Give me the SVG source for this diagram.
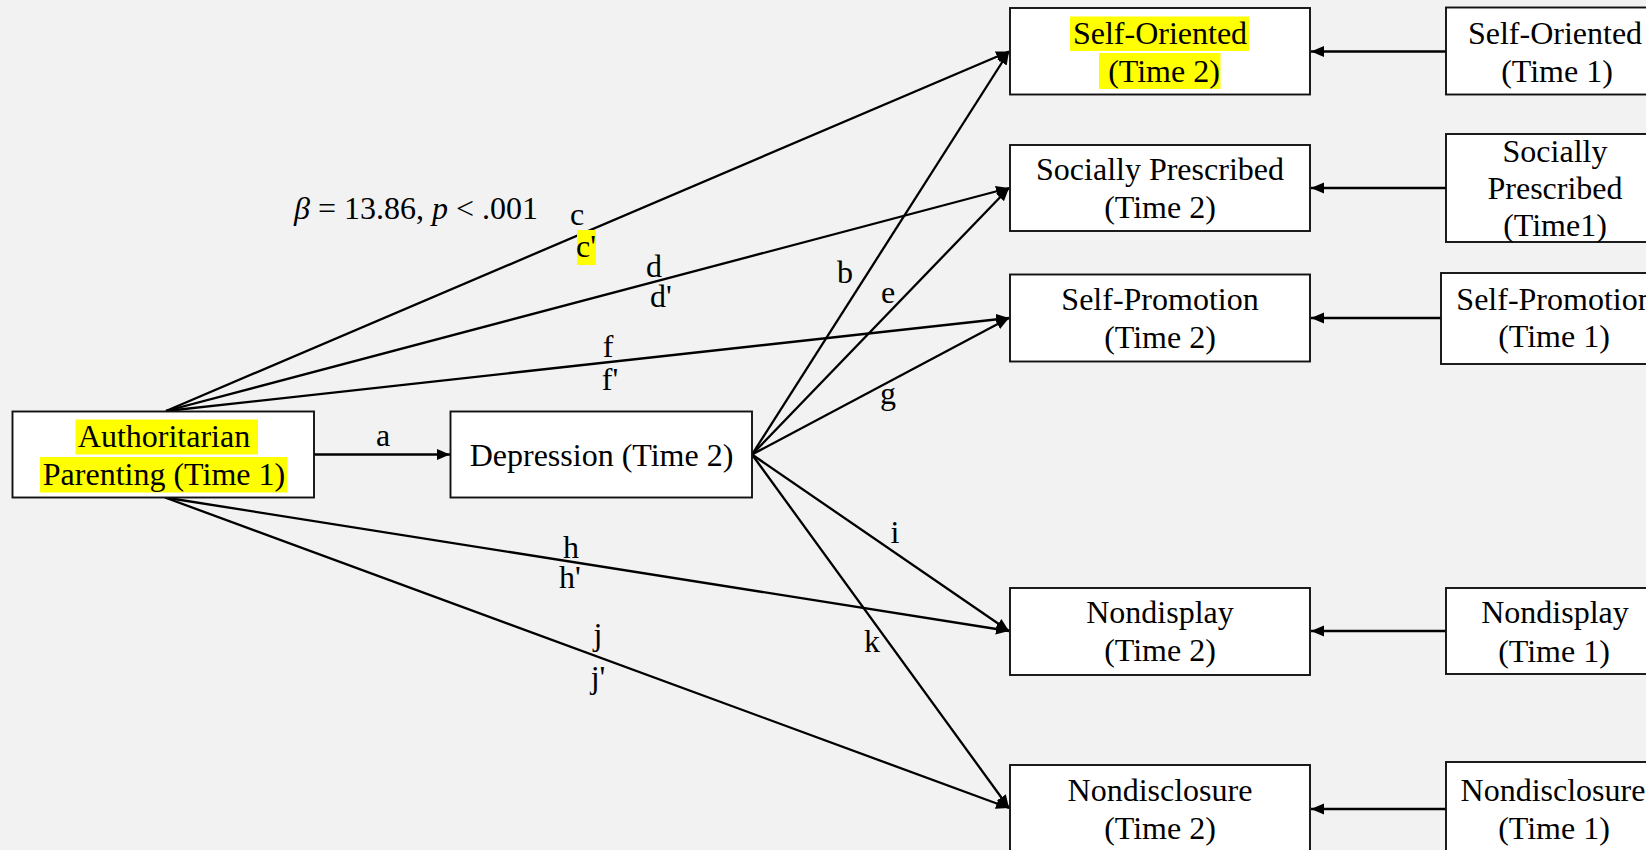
<svg xmlns="http://www.w3.org/2000/svg" width="1646" height="850" viewBox="0 0 1646 850">
<style>
.bg{fill:#f2f2f2}
.box{fill:#fff;stroke:#111;stroke-width:1.9}
.t{font-family:"Liberation Serif","Times New Roman",serif;font-size:32px;fill:#000;text-anchor:middle}
.hl{fill:#ffff00}
.ln{stroke:#000;stroke-width:2.3;fill:none;marker-end:url(#arr)}
</style>
<defs>
<marker id="arr" markerUnits="userSpaceOnUse" markerWidth="14" markerHeight="12" refX="13" refY="5.5" orient="auto">
<path d="M0,0 L13,5.5 L0,11 z" fill="#000"/>
</marker>
</defs>
<rect class="bg" x="0" y="0" width="1646" height="850"/>

<g id="connectors">
<line class="ln" x1="314" y1="454.5" x2="450" y2="454.5"/>
<line class="ln" x1="166" y1="411" x2="1009" y2="51.5"/>
<line class="ln" x1="166" y1="411" x2="1009" y2="188"/>
<line class="ln" x1="166" y1="411" x2="1009" y2="318"/>
<line class="ln" x1="165" y1="497.5" x2="1009" y2="631"/>
<line class="ln" x1="165" y1="497.5" x2="1009" y2="808"/>
<line class="ln" x1="752" y1="454.5" x2="1009" y2="51.5"/>
<line class="ln" x1="752" y1="454.5" x2="1009" y2="188"/>
<line class="ln" x1="752" y1="454.5" x2="1009" y2="318"/>
<line class="ln" x1="752" y1="454.5" x2="1009" y2="631"/>
<line class="ln" x1="752" y1="454.5" x2="1009" y2="808"/>
<line class="ln" x1="1446" y1="51.5" x2="1311" y2="51.5"/>
<line class="ln" x1="1446" y1="188" x2="1311" y2="188"/>
<line class="ln" x1="1441" y1="318" x2="1311" y2="318"/>
<line class="ln" x1="1446" y1="631" x2="1311" y2="631"/>
<line class="ln" x1="1446" y1="809" x2="1311" y2="809"/>
</g>

<g id="labels">
<text class="t" x="294" y="219" style="text-anchor:start"><tspan font-style="italic">β</tspan> = 13.86, <tspan font-style="italic">p</tspan> &lt; .001</text>
<text class="t" x="383" y="446">a</text>
<text class="t" x="845" y="283">b</text>
<text class="t" x="577" y="225">c</text>
<rect class="hl" x="577" y="230" width="19" height="35"/>
<text class="t" x="586" y="257">c'</text>
<text class="t" x="654" y="277">d</text>
<text class="t" x="661" y="307">d'</text>
<text class="t" x="888" y="303">e</text>
<text class="t" x="608" y="357">f</text>
<text class="t" x="610" y="390">f'</text>
<text class="t" x="888" y="404">g</text>
<text class="t" x="571" y="558">h</text>
<text class="t" x="570" y="588">h'</text>
<text class="t" x="895" y="543">i</text>
<text class="t" x="598" y="645">j</text>
<text class="t" x="598" y="688">j'</text>
<text class="t" x="872" y="652">k</text>
</g>

<g id="authoritarian">
<rect class="box" x="12.5" y="411.5" width="301.5" height="86"/>
<rect class="hl" x="75.5" y="419.5" width="182.5" height="35"/>
<rect class="hl" x="40" y="457" width="247.5" height="35.5"/>
<text class="t" x="164" y="446.5">Authoritarian</text>
<text class="t" x="164" y="485">Parenting (Time 1)</text>
</g>

<g id="depression">
<rect class="box" x="450.5" y="411.5" width="301.5" height="86"/>
<text class="t" x="601.5" y="466">Depression (Time 2)</text>
</g>

<g id="selforiented-t2">
<rect class="box" x="1010" y="8" width="300" height="86.5"/>
<rect class="hl" x="1070" y="16.5" width="179" height="34.5"/>
<rect class="hl" x="1099" y="53" width="121.5" height="36"/>
<text class="t" x="1160" y="43.5">Self-Oriented</text>
<text class="t" x="1164" y="81.5">(Time 2)</text>
</g>

<g id="socially-t2">
<rect class="box" x="1010" y="145" width="300" height="86"/>
<text class="t" x="1160" y="180">Socially Prescribed</text>
<text class="t" x="1160" y="218">(Time 2)</text>
</g>

<g id="selfpromotion-t2">
<rect class="box" x="1010" y="274.5" width="300" height="87"/>
<text class="t" x="1160" y="310">Self-Promotion</text>
<text class="t" x="1160" y="348">(Time 2)</text>
</g>

<g id="nondisplay-t2">
<rect class="box" x="1010" y="588" width="300" height="87"/>
<text class="t" x="1160" y="623">Nondisplay</text>
<text class="t" x="1160" y="661">(Time 2)</text>
</g>

<g id="nondisclosure-t2">
<rect class="box" x="1010" y="765" width="300" height="90"/>
<text class="t" x="1160" y="800.5">Nondisclosure</text>
<text class="t" x="1160" y="838.5">(Time 2)</text>
</g>

<g id="selforiented-t1">
<rect class="box" x="1446" y="7.5" width="220" height="87"/>
<text class="t" x="1555" y="43.5">Self-Oriented</text>
<text class="t" x="1557" y="81.5">(Time 1)</text>
</g>

<g id="socially-t1">
<rect class="box" x="1446" y="134" width="220" height="108"/>
<text class="t" x="1555" y="161.5">Socially</text>
<text class="t" x="1555" y="199">Prescribed</text>
<text class="t" x="1555" y="236">(Time1)</text>
</g>

<g id="selfpromotion-t1">
<rect class="box" x="1441" y="273" width="225" height="91"/>
<text class="t" x="1555" y="310">Self-Promotion</text>
<text class="t" x="1554" y="347">(Time 1)</text>
</g>

<g id="nondisplay-t1">
<rect class="box" x="1446" y="588" width="220" height="86"/>
<text class="t" x="1555" y="623">Nondisplay</text>
<text class="t" x="1554" y="661.5">(Time 1)</text>
</g>

<g id="nondisclosure-t1">
<rect class="box" x="1446" y="762" width="220" height="95"/>
<text class="t" x="1553" y="800.5">Nondisclosure</text>
<text class="t" x="1554" y="838.5">(Time 1)</text>
</g>
</svg>
